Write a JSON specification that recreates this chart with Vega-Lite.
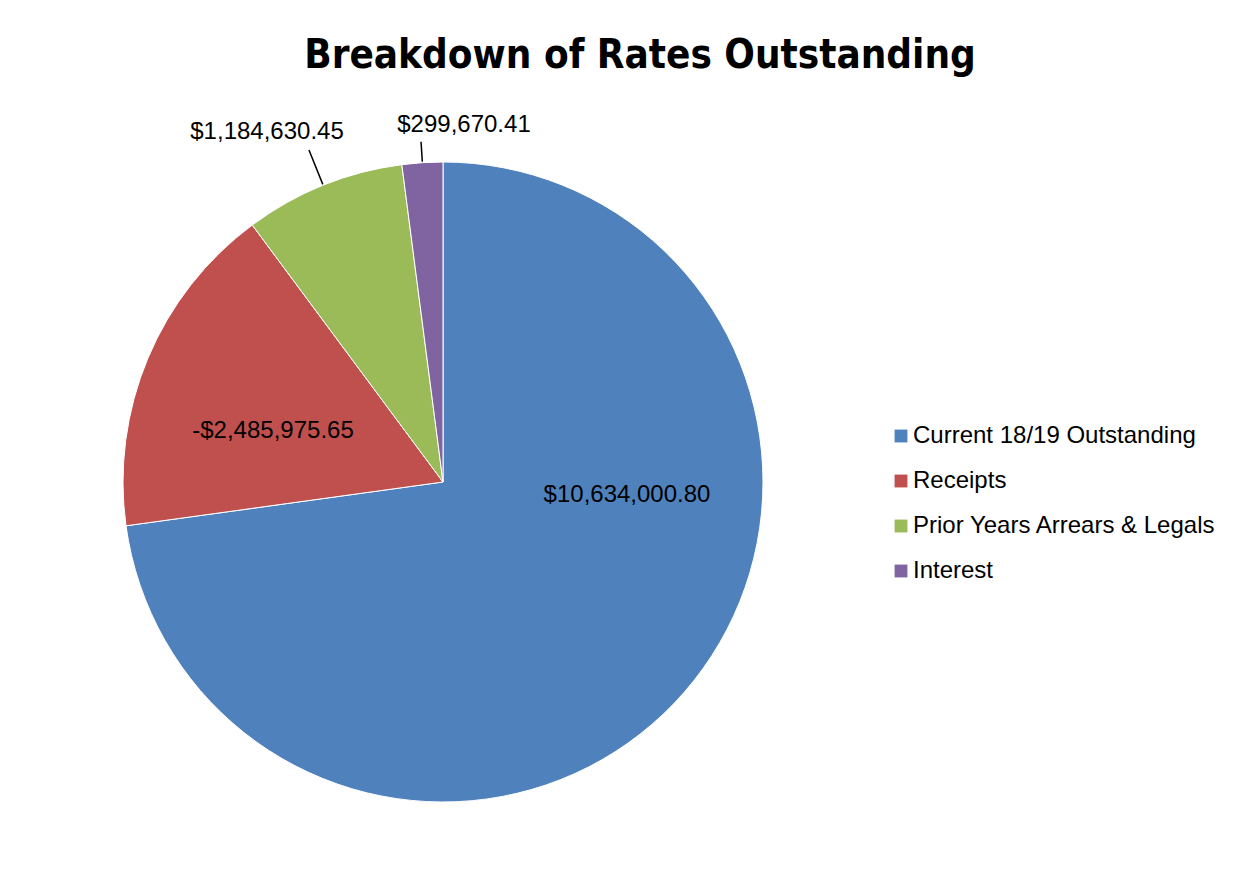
{
  "$schema": "https://vega.github.io/schema/vega-lite/v6.json",
  "width": 640,
  "height": 640,
  "autosize": {"type": "none"},
  "padding": {"left": 123, "top": 162, "right": 482, "bottom": 77},
  "background": "white",
  "title": {
    "text": "Breakdown of Rates Outstanding",
    "anchor": "middle",
    "frame": "group",
    "dx": 197,
    "offset": 37,
    "fontSize": 40,
    "font": "DejaVu Sans Condensed, Liberation Sans, sans-serif",
    "fontWeight": "bold",
    "color": "black"
  },
  "config": {
    "view": {"stroke": null},
    "locale": {"number": {"decimal": ".", "thousands": ",", "grouping": [3], "currency": ["$", ""], "minus": "-"}}
  },
  "data": {
    "values": [
      {"idx": 1, "category": "Current 18/19 Outstanding", "value": 10634000.80, "amount": 10634000.80},
      {"idx": 2, "category": "Receipts", "value": -2485975.65, "amount": 2485975.65},
      {"idx": 3, "category": "Prior Years Arrears & Legals", "value": 1184630.45, "amount": 1184630.45},
      {"idx": 4, "category": "Interest", "value": 299670.41, "amount": 299670.41}
    ]
  },
  "transform": [
    {"stack": "amount", "groupby": [], "sort": [{"field": "idx", "order": "ascending"}], "as": ["t0", "t1"]}
  ],
  "layer": [
    {
      "mark": {"type": "arc", "stroke": "white", "strokeWidth": 1},
      "encoding": {
        "theta": {"field": "t1", "type": "quantitative", "scale": {"zero": true}},
        "theta2": {"field": "t0"},
        "color": {
          "field": "category",
          "type": "nominal",
          "scale": {
            "domain": ["Current 18/19 Outstanding", "Receipts", "Prior Years Arrears & Legals", "Interest"],
            "range": ["#4F81BD", "#C0504D", "#9BBB59", "#8064A2"]
          },
          "legend": {
            "title": null,
            "orient": "none",
            "legendX": 766,
            "legendY": 262,
            "symbolType": "square",
            "symbolSize": 165,
            "symbolStrokeWidth": 0,
            "labelFont": "Liberation Sans",
            "labelFontSize": 24,
            "labelColor": "black",
            "labelOffset": 0,
            "rowPadding": 21,
            "labelLimit": 400
          }
        }
      }
    },
    {
      "transform": [{"filter": "datum.category === 'Prior Years Arrears & Legals'"}],
      "mark": {"type": "arc", "padAngle": 3, "innerRadius": 321, "outerRadius": 358, "stroke": "black", "strokeWidth": 1.5, "fill": "black"},
      "encoding": {
        "theta": {"field": "t1", "type": "quantitative"},
        "theta2": {"field": "t0"}
      }
    },
    {
      "transform": [{"filter": "datum.category === 'Interest'"}],
      "mark": {"type": "arc", "padAngle": 3, "innerRadius": 321, "outerRadius": 341, "stroke": "black", "strokeWidth": 1.5, "fill": "black"},
      "encoding": {
        "theta": {"field": "t1", "type": "quantitative"},
        "theta2": {"field": "t0"}
      }
    },
    {
      "transform": [{"filter": "datum.category === 'Current 18/19 Outstanding'"}],
      "mark": {"type": "text", "radius": 0, "dx": 184, "dy": 13, "font": "Liberation Sans", "fontSize": 24, "color": "black", "align": "center", "baseline": "middle"},
      "encoding": {
        "theta": {"field": "t0", "type": "quantitative"},
        "text": {"field": "value", "type": "quantitative", "format": "$,.2f"}
      }
    },
    {
      "transform": [{"filter": "datum.category === 'Receipts'"}],
      "mark": {"type": "text", "radius": 0, "dx": -170, "dy": -51, "font": "Liberation Sans", "fontSize": 24, "color": "black", "align": "center", "baseline": "middle"},
      "encoding": {
        "theta": {"field": "t0", "type": "quantitative"},
        "text": {"field": "value", "type": "quantitative", "format": "$,.2f"}
      }
    },
    {
      "transform": [{"filter": "datum.category === 'Prior Years Arrears & Legals'"}],
      "mark": {"type": "text", "radius": 0, "dx": -176, "dy": -350, "font": "Liberation Sans", "fontSize": 24, "color": "black", "align": "center", "baseline": "middle"},
      "encoding": {
        "theta": {"field": "t0", "type": "quantitative"},
        "text": {"field": "value", "type": "quantitative", "format": "$,.2f"}
      }
    },
    {
      "transform": [{"filter": "datum.category === 'Interest'"}],
      "mark": {"type": "text", "radius": 0, "dx": 21, "dy": -357, "font": "Liberation Sans", "fontSize": 24, "color": "black", "align": "center", "baseline": "middle"},
      "encoding": {
        "theta": {"field": "t0", "type": "quantitative"},
        "text": {"field": "value", "type": "quantitative", "format": "$,.2f"}
      }
    }
  ]
}
